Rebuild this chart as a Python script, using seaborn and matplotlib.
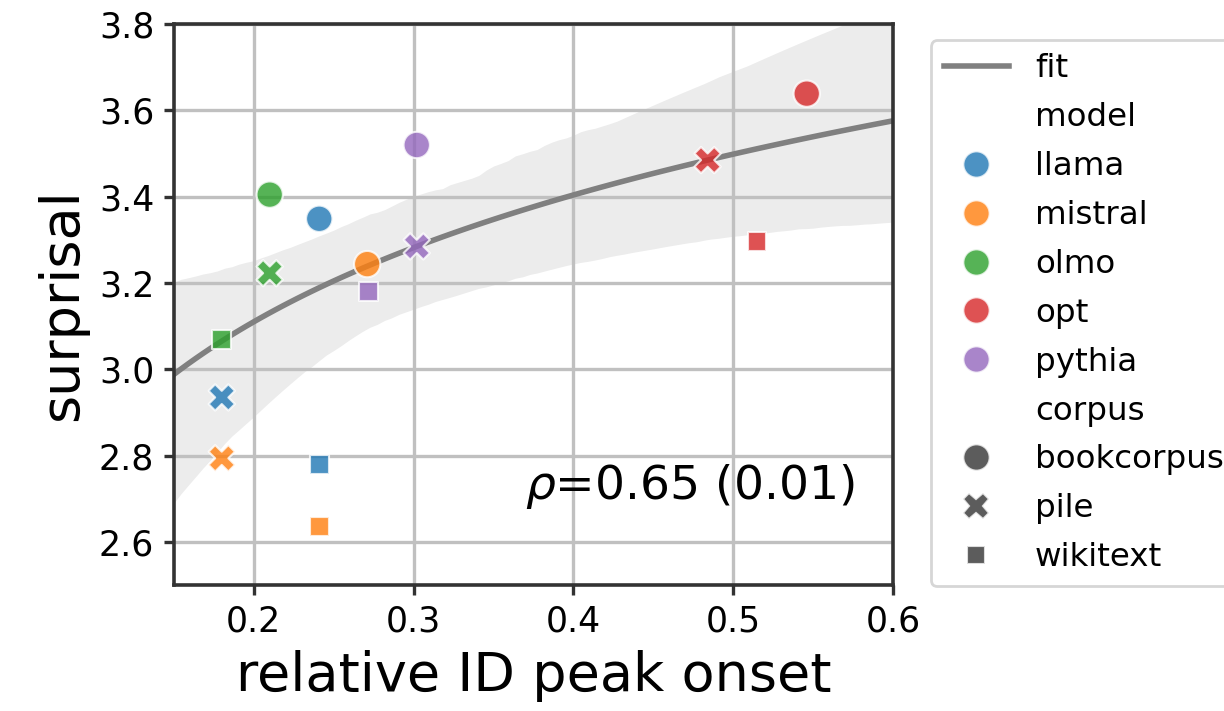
import numpy as np
import pandas as pd
import matplotlib.pyplot as plt
import seaborn as sns

# values
model = ['llama', 'llama', 'llama',
         'mistral', 'mistral', 'mistral',
         'olmo', 'olmo', 'olmo',
         'opt', 'opt', 'opt',
         'pythia', 'pythia', 'pythia']
corpus = ['bookcorpus', 'pile', 'wikitext'] * 5
onset = [0.241, 0.180, 0.241,
         0.271, 0.180, 0.241,
         0.210, 0.210, 0.180,
         0.546, 0.484, 0.515,
         0.302, 0.302, 0.272]
surprisal = [3.349, 2.935, 2.779,
             3.244, 2.794, 2.636,
             3.405, 3.223, 3.069,
             3.639, 3.485, 3.296,
             3.520, 3.285, 3.180]

df = pd.DataFrame({'model': model, 'corpus': corpus,
                   'onset': onset, 'surprisal': surprisal})


def median_logfit(x, y, eps=1e-6, n_iter=200):
    # least absolute deviations of y on log(x), by IRLS
    X = np.column_stack([np.ones_like(x), np.log(x)])
    beta = np.linalg.lstsq(X, y, rcond=None)[0]
    for _ in range(n_iter):
        r = y - X @ beta
        w = 1.0 / np.maximum(np.abs(r), eps)
        sw = np.sqrt(w)
        beta = np.linalg.lstsq(X * sw[:, None], y * sw, rcond=None)[0]
    return beta


x = df['onset'].to_numpy()
y = df['surprisal'].to_numpy()
grid = np.linspace(0.15, 0.6, 100)
beta = median_logfit(x, y)
yhat = beta[0] + beta[1] * np.log(grid)

# bootstrap band (slightly smoothed L1 so the band is not jagged)
rng = np.random.default_rng(0)
boots = []
for _ in range(2000):
    idx = rng.integers(0, len(x), len(x))
    if len(np.unique(x[idx])) < 2:
        continue
    b = median_logfit(x[idx], y[idx], eps=0.05, n_iter=40)
    boots.append(b[0] + b[1] * np.log(grid))
lo, hi = np.percentile(np.array(boots), [2.5, 97.5], axis=0)

fig, ax = plt.subplots(figsize=(6.12, 3.555), dpi=200)
fig.subplots_adjust(left=0.142, right=0.7296, top=0.966, bottom=0.177)

ax.fill_between(grid, lo, hi, color='gray', alpha=0.15, lw=0)
fit_line, = ax.plot(grid, yhat, color='gray', lw=2)
sns.scatterplot(data=df, x='onset', y='surprisal', hue='model', style='corpus',
                s=90, alpha=0.8, zorder=3, ax=ax)

ax.set_xlim(0.15, 0.6)
ax.set_ylim(2.5, 3.8)
ax.set_xticks([0.2, 0.3, 0.4, 0.5, 0.6])
ax.set_yticks([2.6, 2.8, 3.0, 3.2, 3.4, 3.6, 3.8])
ax.grid(True, color='#c0c0c0', lw=1.2)
for sp in ax.spines.values():
    sp.set_color('#333333')
    sp.set_linewidth(1.3)
ax.tick_params(labelsize=12.5, width=1.2, color='#333333')
ax.set_xlabel('relative ID peak onset', fontsize=19.5)
ax.set_ylabel('surprisal', fontsize=19.5)

ax.text(0.37, 2.70, r'$\rho$=0.65 (0.01)', fontsize=17)

# fit line first, then the seaborn hue/style entries
leg = ax.get_legend()
handles = list(leg.legend_handles)
labels = [t.get_text() for t in leg.get_texts()]
ax.legend([fit_line] + handles, ['fit'] + labels, loc='upper left',
          bbox_to_anchor=(1.03, 1.0), fontsize=11.7, labelspacing=0.55)

plt.savefig('out.png')
